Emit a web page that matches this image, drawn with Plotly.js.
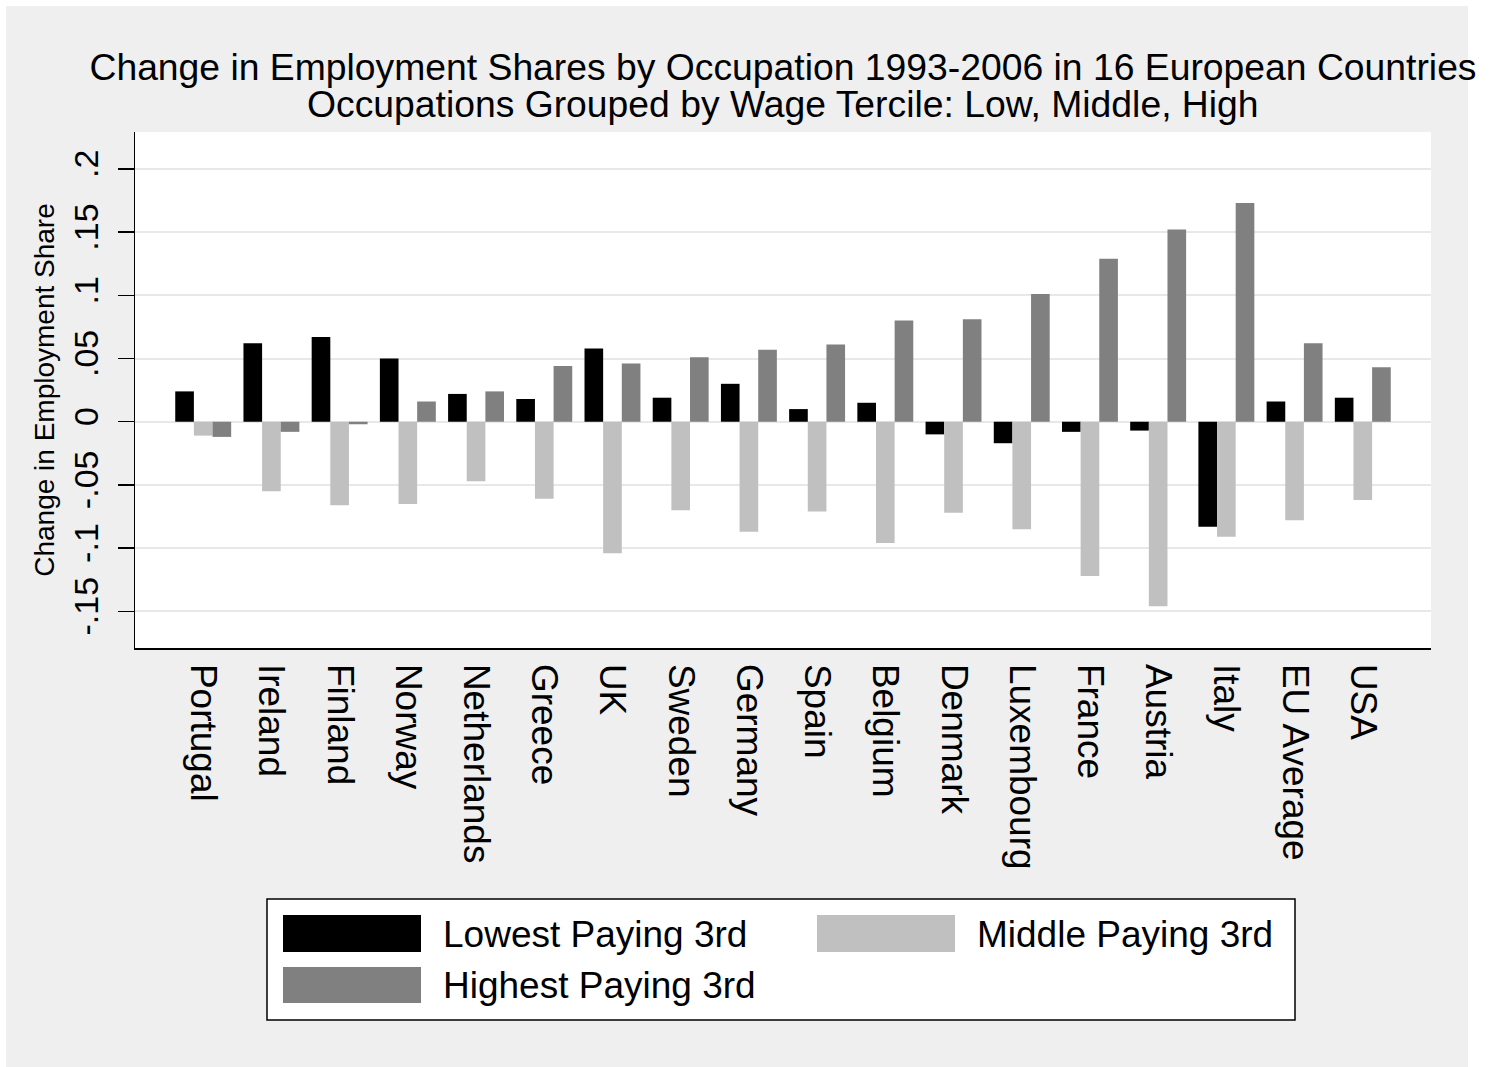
<!DOCTYPE html>
<html>
<head>
<meta charset="utf-8">
<script src="https://cdn.plot.ly/plotly-3.0.1.min.js"></script>
<style>html,body{margin:0;padding:0;background:#fff;}#chart{width:1493px;height:1067px;}</style>
</head>
<body>
<div id="chart"></div>
<script>
// ---- Data ----
const countries = ['Portugal','Ireland','Finland','Norway','Netherlands','Greece','UK','Sweden','Germany','Spain','Belgium','Denmark','Luxembourg','France','Austria','Italy','EU Average','USA'];
const lowestPaying = [0.024, 0.062, 0.067, 0.050, 0.022, 0.018, 0.058, 0.019, 0.030, 0.010, 0.015, -0.010, -0.017, -0.008, -0.007, -0.083, 0.016, 0.019];
const middlePaying = [-0.011, -0.055, -0.066, -0.065, -0.047, -0.061, -0.104, -0.070, -0.087, -0.071, -0.096, -0.072, -0.085, -0.122, -0.146, -0.091, -0.078, -0.062];
const highestPaying = [-0.012, -0.008, -0.002, 0.016, 0.024, 0.044, 0.046, 0.051, 0.057, 0.061, 0.080, 0.081, 0.101, 0.129, 0.152, 0.173, 0.062, 0.043];
const seriesNames = ['Lowest Paying 3rd', 'Middle Paying 3rd', 'Highest Paying 3rd'];
const yTickVals = [-0.15, -0.1, -0.05, 0, 0.05, 0.1, 0.15, 0.2];
const yTickText = ['-.15', '-.1', '-.05', '0', '.05', '.1', '.15', '.2'];
const titleLine1 = 'Change in Employment Shares by Occupation 1993-2006 in 16 European Countries';
const titleLine2 = 'Occupations Grouped by Wage Tercile: Low, Middle, High';
const yTitle = 'Change in Employment Share';

// ---- Styles ----
const FONT = 'Liberation Sans, Arial, Helvetica, sans-serif';
const colors = ['#000000', '#c0c0c0', '#808080'];
const values = [lowestPaying, middlePaying, highestPaying];

const traces = values.map((v, i) => ({
  type: 'bar',
  name: seriesNames[i],
  x: countries,
  y: v,
  marker: {color: colors[i], line: {width: 0}},
  showlegend: false,
  hoverinfo: 'skip'
}));

// plot area in pixels: x 135..1431, y 132..648
const W = 1493, H = 1067, L = 135, R = 1431, T = 132, B = 648;
const px = x => (x - L) / (R - L);
const py = y => (B - y) / (B - T);

const shapes = [
  // grey outer background
  {type:'rect', xref:'paper', yref:'paper', x0:px(6), x1:px(1468), y0:py(1067), y1:py(6), fillcolor:'#efefef', line:{width:0}, layer:'below'},
  // white plot region
  {type:'rect', xref:'paper', yref:'paper', x0:0, x1:1, y0:0, y1:1, fillcolor:'#ffffff', line:{width:0}, layer:'below'},
  // legend box
  {type:'rect', xref:'paper', yref:'paper', x0:px(267), x1:px(1295), y0:py(1020), y1:py(899), fillcolor:'#ffffff', line:{color:'#000', width:1.5}},
];
const swatches = [
  {x0:283, x1:421, y0:915, y1:952, tx:441, ty:934},
  {x0:817, x1:955, y0:915, y1:952, tx:975, ty:934},
  {x0:283, x1:421, y0:967, y1:1003, tx:441, ty:985},
];
const annotations = [
  {xref:'paper', yref:'paper', x:0.5, y:py(104), xanchor:'center', yanchor:'middle', text:titleLine2, showarrow:false, font:{family:FONT, size:37.3, color:'#000'}}
];
swatches.forEach((s, i) => {
  shapes.push({type:'rect', xref:'paper', yref:'paper', x0:px(s.x0), x1:px(s.x1), y0:py(s.y1), y1:py(s.y0), fillcolor:colors[i], line:{width:0}});
  annotations.push({xref:'paper', yref:'paper', x:px(s.tx), y:py(s.ty), xanchor:'left', yanchor:'middle', text:seriesNames[i], showarrow:false, font:{family:FONT, size:37, color:'#000'}});
});

const layout = {
  width: W, height: H,
  margin: {l: L, r: W - R, t: T, b: H - B, pad: 0},
  paper_bgcolor: '#ffffff',
  plot_bgcolor: 'rgba(0,0,0,0)',
  font: {family: FONT, color: '#000'},
  title: {text: titleLine1, x: 0.5, xref: 'paper', xanchor: 'center', y: 1 - 67 / H, yref: 'container', yanchor: 'middle', font: {family: FONT, size: 37.3, color: '#000'}},
  barmode: 'group',
  bargap: 0.18,
  bargroupgap: 0,
  xaxis: {
    type: 'category',
    range: [-1, 18],
    showgrid: false,
    showline: true, linecolor: '#000', linewidth: 1.5,
    ticks: '',
    tickangle: 90,
    ticklabelstandoff: 7,
    tickfont: {family: FONT, size: 37, color: '#000'},
    zeroline: false,
    fixedrange: true
  },
  yaxis: {
    range: [-0.179, 0.2292],
    tickvals: yTickVals,
    ticktext: yTickText,
    tickangle: -90,
    ticklabelstandoff: 6,
    tickfont: {family: FONT, size: 34, color: '#000'},
    ticks: 'outside', ticklen: 16, tickwidth: 1.5, tickcolor: '#000',
    showline: true, linecolor: '#000', linewidth: 1.5,
    showgrid: true, gridcolor: '#e8e8e8', gridwidth: 2,
    zeroline: false,
    title: {text: yTitle, font: {family: FONT, size: 28, color: '#000'}, standoff: 4},
    fixedrange: true
  },
  shapes: shapes,
  annotations: annotations
};

Plotly.newPlot('chart', traces, layout, {staticPlot: true, displayModeBar: false});
</script>
</body>
</html>
